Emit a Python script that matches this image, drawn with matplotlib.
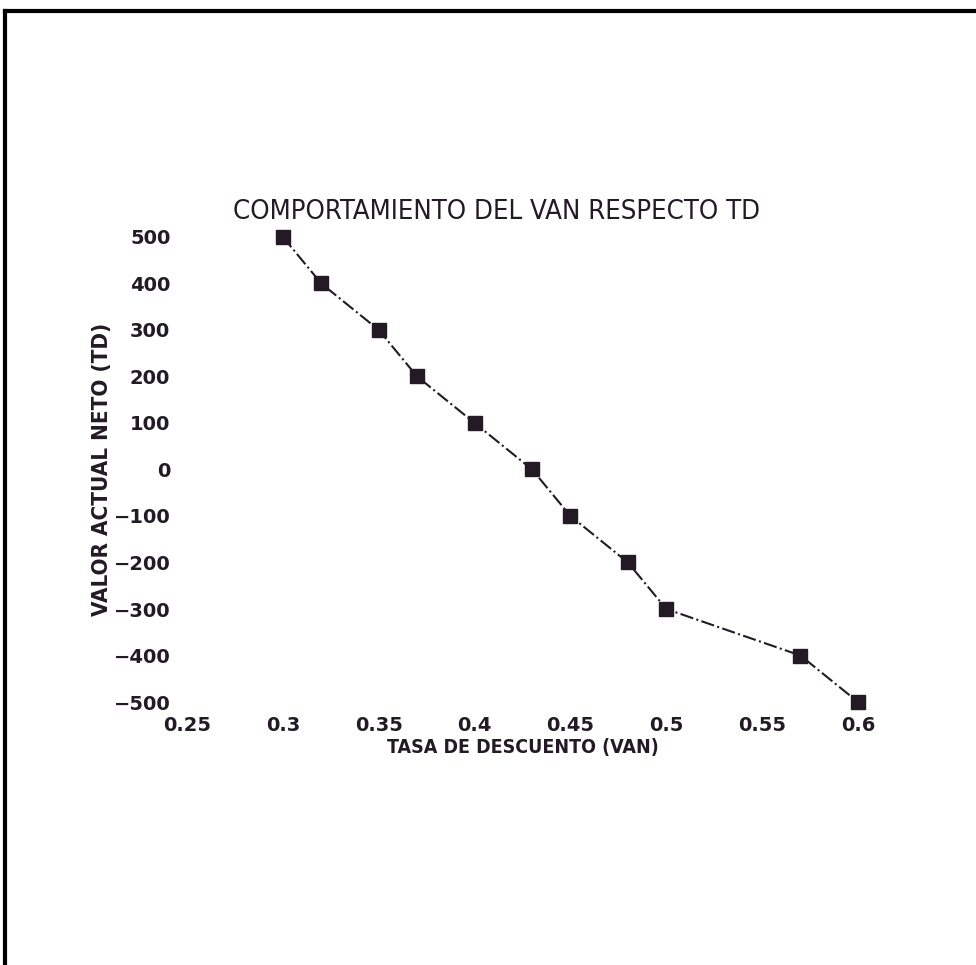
import matplotlib.pyplot as plt
from matplotlib.lines import Line2D

# tasa de descuento vs VAN
tasa = [0.30, 0.32, 0.35, 0.37, 0.40, 0.43, 0.45, 0.48, 0.50, 0.57, 0.60]
van = [500, 400, 300, 200, 100, 0, -100, -200, -300, -400, -500]
xticks = [0.25, 0.3, 0.35, 0.4, 0.45, 0.5, 0.55, 0.6]
yticks = [500, 400, 300, 200, 100, 0, -100, -200, -300, -400, -500]

ink = "#231a26"

fig = plt.figure(figsize=(9.76, 9.65), dpi=100)
ax = fig.add_axes([0.1916, 0.2725, 0.6875, 0.482])

ax.plot(tasa, van, color=ink, linestyle="-.", linewidth=1.5,
        marker="s", markersize=10, markerfacecolor=ink, markeredgecolor=ink,
        clip_on=False)

ax.set_xlim(0.25, 0.6)
ax.set_ylim(-500, 500)
ax.set_xticks(xticks)
ax.set_xticklabels(["0.25", "0.3", "0.35", "0.4", "0.45", "0.5", "0.55", "0.6"])
ax.set_yticks(yticks)
ax.set_yticklabels([str(v).replace("-", "\u2212") for v in yticks])
ax.tick_params(length=0, pad=12, labelsize=14, colors=ink)
for lab in ax.get_xticklabels() + ax.get_yticklabels():
    lab.set_fontweight("bold")
ax.tick_params(axis="x", pad=10)
for s in ax.spines.values():
    s.set_visible(False)

ax.set_title("COMPORTAMIENTO DEL VAN RESPECTO TD", fontstretch="condensed",
             fontsize=19.7, color=ink, pad=13, x=0.462)
ax.set_xlabel("TASA DE DESCUENTO (VAN)", fontstretch="condensed", fontsize=14,
              fontweight="bold", color=ink, labelpad=2)
ax.set_ylabel("VALOR ACTUAL NETO (TD)", fontstretch="condensed", fontsize=16,
              fontweight="bold", color=ink, labelpad=1)

# marco de la pagina
fig.add_artist(Line2D([0.005, 1.0], [0.989, 0.989], color="black", lw=3,
                      transform=fig.transFigure))
fig.add_artist(Line2D([0.005, 0.005], [0.0, 0.989], color="black", lw=3,
                      transform=fig.transFigure))

fig.savefig("out.png", dpi=100)
